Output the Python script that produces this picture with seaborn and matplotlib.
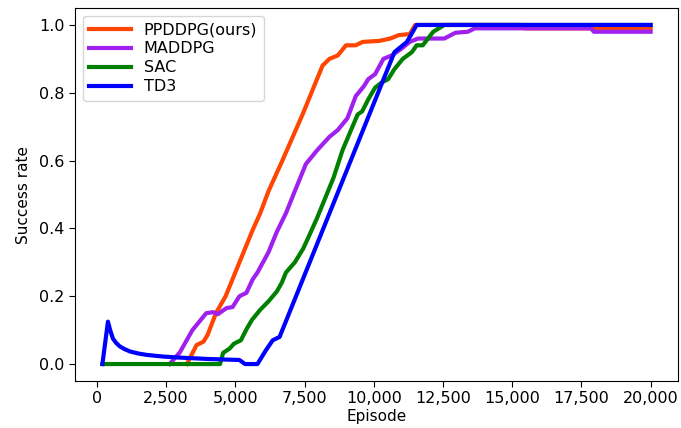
import matplotlib
matplotlib.use('Agg')
import matplotlib.pyplot as plt
import matplotlib.ticker as mticker
import seaborn as sb

# episodes / success rate
ppddpg_ep = [3250, 3600, 3850, 4000, 4300, 4650, 4950, 5250, 5600, 5900, 6200, 6700, 7450,
             8150, 8400, 8700, 9000, 9350, 9600, 10200, 10600, 10900, 11300, 11500, 15300,
             15450, 20000]
ppddpg_val = [0.0, 0.056, 0.066, 0.086, 0.15, 0.2, 0.26, 0.32, 0.39, 0.445, 0.51, 0.6, 0.74,
              0.88, 0.9, 0.91, 0.94, 0.94, 0.95, 0.953, 0.96, 0.97, 0.973, 1.0, 1.0,
              0.99, 0.99]

maddpg_ep = [2630, 3000, 3450, 3950, 4200, 4370, 4680, 4900, 5150, 5400, 5630, 5800, 6200,
             6500, 6830, 7150, 7550, 7950, 8400, 8700, 9050, 9350, 9650, 9800, 10050, 10350,
             10650, 11000, 11300, 11600, 12550, 12950, 13400, 13650, 17850, 17950, 20000]
maddpg_val = [0.0, 0.035, 0.1, 0.15, 0.153, 0.147, 0.165, 0.168, 0.2, 0.21, 0.25, 0.27, 0.33,
              0.39, 0.445, 0.51, 0.59, 0.63, 0.67, 0.69, 0.725, 0.79, 0.82, 0.84, 0.855, 0.9,
              0.91, 0.93, 0.95, 0.96, 0.96, 0.977, 0.98, 0.99, 0.99, 0.98, 0.98]

sac_ep = [200, 4450, 4560, 4800, 4950, 5200, 5420, 5600, 5900, 6200, 6500, 6680, 6830, 7150,
          7450, 7620, 7950, 8250, 8550, 8870, 9180, 9420, 9580, 9800, 10050, 10280, 10520,
          10750, 11050, 11380, 11550, 11770, 12150, 12550, 20000]
sac_val = [0.0, 0.0, 0.033, 0.046, 0.06, 0.07, 0.105, 0.13, 0.16, 0.185, 0.214, 0.24, 0.27, 0.3,
           0.34, 0.37, 0.43, 0.49, 0.55, 0.63, 0.69, 0.736, 0.745, 0.78, 0.815, 0.83, 0.84,
           0.87, 0.9, 0.92, 0.94, 0.94, 0.98, 1.0, 1.0]

td3_ep = [200, 400, 480, 580, 700, 830, 1000, 1200, 1500, 1800, 2400, 3000, 4000, 5150, 5350,
          5800, 6100, 6350, 6600, 10750, 11200, 11550, 20000]
td3_val = [0.0, 0.125, 0.1, 0.075, 0.062, 0.052, 0.044, 0.037, 0.031, 0.027, 0.022, 0.019,
           0.015, 0.012, 0.0, 0.0, 0.04, 0.07, 0.08, 0.92, 0.95, 1.0, 1.0]

plt.rcParams['font.family'] = ['DejaVu Sans']
plt.rcParams['font.size'] = 11

fig = plt.figure(figsize=(6.81, 4.28), dpi=100)
ax = fig.add_axes([75 / 681, 1 - 381 / 428, 603 / 681, 373 / 428])

sb.lineplot(x=ppddpg_ep, y=ppddpg_val, ax=ax, color='#ff4500', lw=3, label='PPDDPG(ours)')
sb.lineplot(x=maddpg_ep, y=maddpg_val, ax=ax, color='#a020f0', lw=3, label='MADDPG')
sb.lineplot(x=sac_ep, y=sac_val, ax=ax, color='green', lw=3, label='SAC')
sb.lineplot(x=td3_ep, y=td3_val, ax=ax, color='blue', lw=3, label='TD3')

ax.xaxis.set_major_locator(mticker.MultipleLocator(2500))
ax.xaxis.set_major_formatter(mticker.StrMethodFormatter('{x:,.0f}'))
ax.tick_params(labelsize=11.5, length=4)
ax.set_xlabel('Episode', labelpad=2)
ax.set_ylabel('Success rate', labelpad=6)
ax.legend(loc='upper left', fontsize=11.5, labelspacing=0.25, handlelength=2.6,
          borderpad=0.4, borderaxespad=0.5)

fig.savefig('out.png', dpi=100)
